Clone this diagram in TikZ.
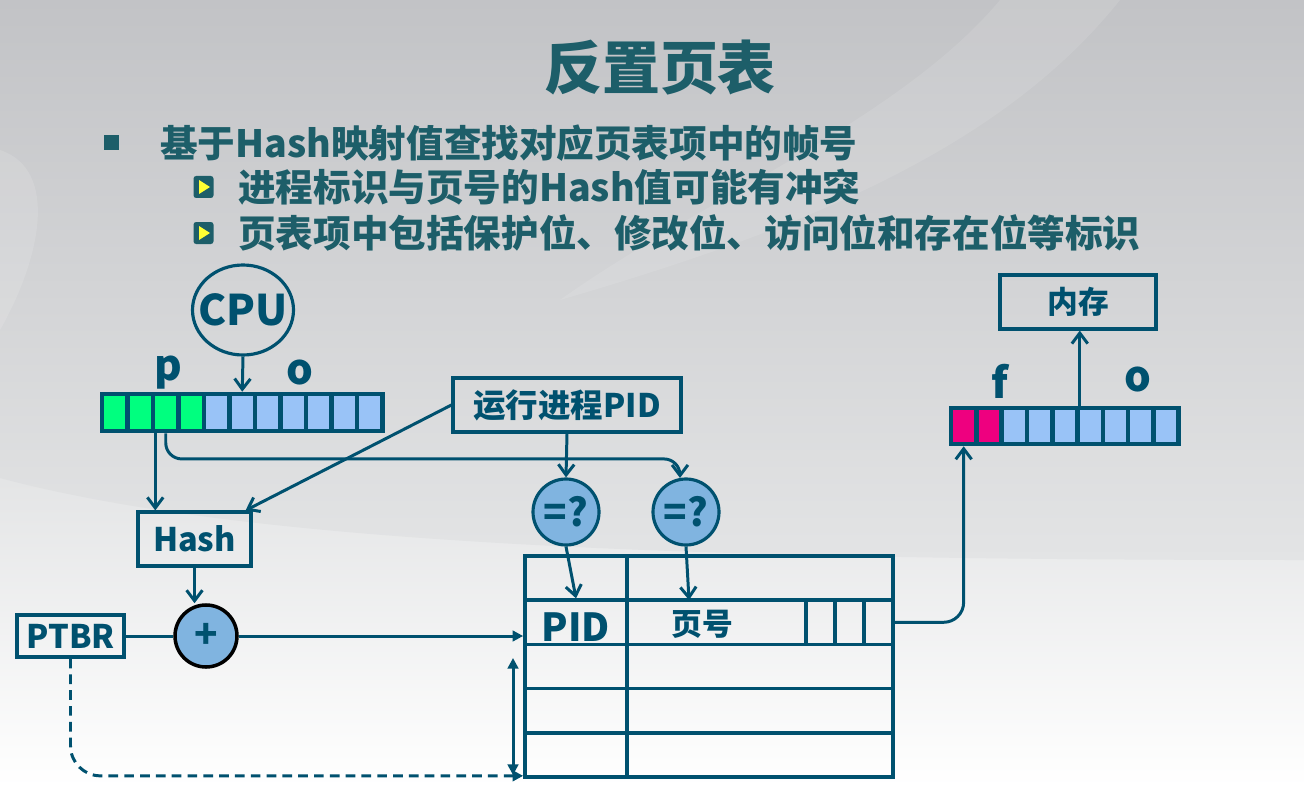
\documentclass[tikz,border=0pt]{standalone}
\usepackage{fontspec}
\usepackage{xcolor}
\setmainfont{Noto Sans CJK SC}
\usetikzlibrary{arrows.meta, positioning, calc, shapes.geometric}

\newlength{\pxl}
\setlength{\pxl}{0.02cm}

\definecolor{linecol}{HTML}{00516F}
\definecolor{txtcol}{HTML}{1D5E69}
\definecolor{greencell}{HTML}{00FF7F}
\definecolor{bluecell}{HTML}{99C3F7}
\definecolor{pinkcell}{HTML}{EE007F}
\definecolor{eqfill}{HTML}{80B4E0}
\definecolor{bgtop}{HTML}{C2C3C6}
\definecolor{bgmid}{HTML}{E3E4E5}
\definecolor{bulyel}{HTML}{FFFF33}

\tikzset{
  box/.style={draw=linecol, line width=1.8pt, inner sep=0pt},
  cell/.style={draw=linecol, line width=2.6pt, minimum width=25.5\pxl, minimum height=37\pxl, inner sep=0pt},
  tcell/.style={draw=linecol, line width=2.1pt, minimum height=44.2\pxl, inner sep=0pt},
  eqc/.style={circle, draw=linecol, fill=eqfill, line width=1.8pt, minimum size=66\pxl, inner sep=0pt, font=\fontsize{22}{24}\bfseries},
  line/.style={draw=linecol, line width=1.7pt},
  arr/.style={line, -{Straight Barb[length=6pt, width=9pt, line width=1.7pt]}},
  arrt/.style={line, -{Triangle[length=6pt, width=6pt]}},
  lbl/.style={font=\fontsize{18.5}{20}\bfseries},
  bultxt/.style={anchor=west, text=txtcol, font=\fontsize{21.4}{24}\bfseries}
}

\begin{document}
\begin{tikzpicture}[x=0.02cm, y=-0.02cm, every node/.style={text=linecol}]
\useasboundingbox (0,0) rectangle (1304,787);

% Background
\fill[white] (0,0) rectangle (1304,787);
\shade[top color=bgmid, bottom color=white] (0,470) -- (0,787) -- (1304,787) -- (1304,555) -- cycle;
\shade[top color=bgtop, bottom color=bgmid] (0,0) -- (1304,0) -- (1304,560) .. controls (700,560) and (250,545) .. (0,478) -- cycle;
\fill[white, opacity=0.12] (0,150) .. controls (60,170) and (40,260) .. (0,330) -- cycle;
\fill[white, opacity=0.10] (1000,0) .. controls (900,120) and (700,200) .. (560,300) .. controls (800,230) and (1000,150) .. (1120,0) -- cycle;

% Title and bullets
\node[text=txtcol, font=\fontsize{33}{36}\bfseries] (title) at (660,68) {反置页表};
\node[fill=txtcol, minimum width=15\pxl, minimum height=15\pxl, inner sep=0pt] (b1) at (111,143) {};
\node[bultxt] (t1) at (154,143) {基于Hash映射值查找对应页表项中的帧号};
\foreach \y/\n in {187/2, 233/3} {
  \node[fill=txtcol, rounded corners=1.5pt, minimum width=20\pxl, minimum height=22\pxl, inner sep=0pt] (b\n) at (203.5,\y) {};
  \fill[bulyel] ($(b\n)+(-4.5,-7)$) -- ++(11,7) -- ++(-11,7) -- cycle;
}
\node[bultxt] (t2) at (232,187) {进程标识与页号的Hash值可能有冲突};
\node[bultxt] (t3) at (232,233) {页表项中包括保护位、修改位、访问位和存在位等标识};

% CPU and logical address
\node[ellipse, draw=linecol, line width=1.8pt, minimum width=101\pxl, minimum height=90\pxl, inner xsep=-7pt, inner ysep=0pt, font=\fontsize{24}{26}\bfseries] (cpu) at (243,310) {CPU};
\foreach \i in {1,...,11} {
  \ifnum\i<5 \def\cc{greencell}\else\def\cc{bluecell}\fi
  \node[cell, fill=\cc] (r\i) at ({102+25.5*(\i-0.5)},412.5) {};
}
\node[font=\fontsize{24}{26}\bfseries] (plbl) at (168,373) {p};
\node[font=\fontsize{24}{26}\bfseries] (olbl) at (300,373) {o};

% Hash, PTBR and adder
\node[box, lbl, minimum width=113\pxl, minimum height=54\pxl] (hash) at (194.5,539) {Hash};
\node[box, lbl, minimum width=107\pxl, minimum height=42\pxl] (ptbr) at (70.5,636) {PTBR};
\node[circle, draw=black, fill=eqfill, line width=2pt, minimum size=62\pxl, inner sep=0pt, font=\fontsize{22}{24}\bfseries] (plus) at (206,636) {+};

% Running process PID and comparators
\node[box, lbl, minimum width=228\pxl, minimum height=54\pxl] (pidbox) at (567,405) {运行进程PID};
\node[eqc] (eq1) at (566,512) {=?};
\node[eqc] (eq2) at (686,512) {=?};

% Inverted page table
\foreach \i in {0,...,4} {
  \node[tcell, minimum width=102\pxl] (pid\i) at (576,{578.1+44.2*\i}) {};
  \node[tcell, minimum width=266\pxl] (pg\i) at (760,{578.1+44.2*\i}) {};
}
\foreach \i/\x in {1/820.5, 2/849.5, 3/878.5} {
  \node[tcell, minimum width=29\pxl] (fl\i) at (\x,622.3) {};
}
\node[font=\fontsize{22}{24}\bfseries] (pidtxt) at (576,627) {PID};
\node[font=\fontsize{17.5}{19}\bfseries] (pgtxt) at (702,624) {页号};

% Physical address and memory
\foreach \i in {1,...,9} {
  \ifnum\i<3 \def\cc{pinkcell}\else\def\cc{bluecell}\fi
  \node[cell, fill=\cc, minimum width=25.3\pxl, minimum height=36\pxl] (m\i) at ({951+25.3*(\i-0.5)},426) {};
}
\node[font=\fontsize{24}{26}\bfseries] (flbl) at (1000,381) {f};
\node[font=\fontsize{24}{26}\bfseries] (olbl2) at (1138,380) {o};
\node[box, font=\fontsize{17.5}{19}\bfseries, minimum width=156\pxl, minimum height=54\pxl] (mem) at (1078,302) {内存};

\coordinate (pgin) at (689,600);
\coordinate (dtop) at (513,658);
\coordinate (dbot) at (513,775);

% Connections
\draw[arr] (cpu.south) -- (r6.north);
\draw[arr] (r2.south east) -- (r2.south east |- hash.north);
\draw[arr] (pidbox.west) -- ($(hash.north east)+(-7,0)$);
\draw[arr] (pidbox.south) -- (eq1.north);
\draw[arr, rounded corners=16\pxl] (r3.south) |- ($(eq2.100)+(0,-19)$) -- (eq2.100);
\draw[arr] (eq1.south) -- (pid1.north);
\draw[arr] (eq2.south) -- (pgin);
\draw[arr] (hash.south) -- (hash.south |- plus.north);
\draw[line] (ptbr.east) -- (plus.west);
\draw[arrt] (plus.east) -- (plus.east -| pid1.west);
\draw[arrt, dash pattern=on 5.5pt off 3.5pt, rounded corners=30\pxl] (ptbr.south) |- ($(pid4.south west)+(0,-3)$);
\draw[line, {Triangle[length=6pt, width=6pt]}-{Triangle[length=6pt, width=6pt]}] (dtop) -- (dbot);
\draw[arr, rounded corners=20\pxl] (pg1.east) -| (m1.south);
\draw[arr] (m5.north east) -- (m5.north east |- mem.south);

\end{tikzpicture}
\end{document}
